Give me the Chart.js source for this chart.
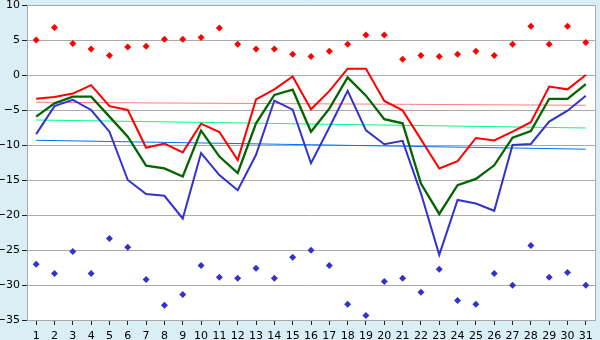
<!DOCTYPE html>
<html>
<head>
<meta charset="utf-8">
<script src="https://cdn.jsdelivr.net/npm/chart.js@4/dist/chart.umd.min.js"></script>
<style>
html,body{margin:0;padding:0;background:#d9eef5;}
#wrap{width:600px;height:340px;position:relative;}
</style>
</head>
<body>
<div id="wrap"><canvas id="c" width="600" height="340"></canvas></div>
<script>
const days = ['1','2','3','4','5','6','7','8','9','10','11','12','13','14','15','16','17','18','19','20','21','22','23','24','25','26','27','28','29','30','31'];
const maxPoints = [5.0,6.8,4.5,3.7,2.8,4.0,4.1,5.1,5.1,5.35,6.7,4.4,3.7,3.7,2.95,2.65,3.4,4.4,5.7,5.7,2.25,2.8,2.65,2.95,3.4,2.8,4.4,6.95,4.4,6.95,4.65];
const minPoints = [-27.05,-28.35,-25.2,-28.35,-23.35,-24.6,-29.2,-32.9,-31.35,-27.2,-28.9,-29.05,-27.6,-29.05,-26.05,-25.05,-27.2,-32.75,-34.35,-29.5,-29.05,-31.05,-27.75,-32.2,-32.75,-28.35,-30.05,-24.35,-28.9,-28.2,-30.05];
const redLine = [-3.4,-3.15,-2.65,-1.45,-4.45,-5.0,-10.4,-9.8,-11.05,-6.95,-8.15,-12.15,-3.5,-2.05,-0.2,-4.9,-2.3,0.9,0.9,-3.7,-5.05,-9.2,-13.35,-12.3,-9.0,-9.35,-8.1,-6.75,-1.65,-2.05,0.0];
const greenLine = [-5.95,-4.05,-3.1,-3.1,-5.95,-8.8,-12.95,-13.35,-14.5,-7.95,-11.65,-14.0,-6.9,-2.85,-2.1,-8.1,-4.8,-0.35,-2.95,-6.3,-6.9,-15.5,-19.85,-15.75,-14.85,-12.9,-8.95,-8.0,-3.4,-3.4,-1.3];
const blueLine = [-8.45,-4.45,-3.55,-5.0,-8.1,-15.0,-17.0,-17.25,-20.5,-11.15,-14.3,-16.45,-11.4,-3.65,-4.95,-12.6,-7.5,-2.25,-7.9,-9.9,-9.4,-16.9,-25.7,-17.85,-18.35,-19.4,-10.0,-9.85,-6.65,-5.1,-2.95];
const redTrend = [-3.9,-4.33];
const greenTrend = [-6.43,-7.57];
const blueTrend = [-9.33,-10.6];
const yTicks = [10,5,0,-5,-10,-15,-20,-25,-30,-35];

const first = days[0], last = days[days.length-1];

const bgPlugin = {
  id:'bg',
  beforeDraw(chart){
    const {ctx, chartArea:a} = chart;
    ctx.save();
    ctx.fillStyle = '#d9eef5';
    ctx.fillRect(0,0,chart.width,chart.height);
    ctx.fillStyle = '#ffffff';
    ctx.fillRect(a.left,a.top,a.right-a.left,a.bottom-a.top);
    ctx.restore();
  },
  beforeDatasetsDraw(chart){
    const {ctx, chartArea:a} = chart;
    ctx.save();
    ctx.strokeStyle = '#aaaaaa';
    ctx.lineWidth = 1;
    ctx.beginPath();
    ctx.moveTo(a.left, a.top+0.5);
    ctx.lineTo(a.right+0.5, a.top+0.5);
    ctx.lineTo(a.right+0.5, a.bottom);
    ctx.stroke();
    ctx.restore();
  }
};

new Chart(document.getElementById('c'), {
  type:'line',
  data:{
    labels: days,
    datasets:[
      {label:'red', data:redLine, borderColor:'#ff0000', borderWidth:2, pointRadius:0, fill:false, tension:0, order:1},
      {label:'green', data:greenLine, borderColor:'#006600', borderWidth:2.3, pointRadius:0, fill:false, tension:0, order:1},
      {label:'blue', data:blueLine, borderColor:'#3333cc', borderWidth:2, pointRadius:0, fill:false, tension:0, order:1},
      {label:'redTrend', data:[{x:first,y:redTrend[0]},{x:last,y:redTrend[1]}], borderColor:'#ff8080', borderWidth:1, pointRadius:0, fill:false, order:2},
      {label:'greenTrend', data:[{x:first,y:greenTrend[0]},{x:last,y:greenTrend[1]}], borderColor:'#00ff80', borderWidth:1, pointRadius:0, fill:false, order:2},
      {label:'blueTrend', data:[{x:first,y:blueTrend[0]},{x:last,y:blueTrend[1]}], borderColor:'#0070ff', borderWidth:1, pointRadius:0, fill:false, order:2},
      {label:'max', data:maxPoints, showLine:false, pointStyle:'rectRot', pointRadius:3.5, pointBorderWidth:0, pointBackgroundColor:'#ff0000', borderColor:'#ff0000', order:3},
      {label:'min', data:minPoints, showLine:false, pointStyle:'rectRot', pointRadius:3.5, pointBorderWidth:0, pointBackgroundColor:'#3333cc', borderColor:'#3333cc', order:3}
    ]
  },
  options:{
    responsive:false,
    animation:false,
    devicePixelRatio:1,
    layout:{padding:{top:5,right:5,left:0,bottom:0}},
    plugins:{legend:{display:false}, tooltip:{enabled:false}},
    elements:{line:{borderJoinStyle:'miter'}},
    scales:{
      x:{
        type:'category',
        offset:true,
        grid:{display:true, drawOnChartArea:false, drawTicks:true, tickLength:5, color:'#222222', offset:false},
        border:{display:true, color:'#aaaaaa'},
        ticks:{color:'#000000', font:{family:'DejaVu Sans', size:11}, padding:5, maxRotation:0, autoSkip:false},
        afterFit(s){ s.height = 20; s.paddingLeft = 0; s.paddingRight = 0; }
      },
      y:{
        min:-35, max:10,
        afterBuildTicks(s){ s.ticks = yTicks.map(v=>({value:v})); },
        grid:{color:'#aaaaaa', drawTicks:true, tickLength:5, tickColor:'#222222'},
        border:{display:true, color:'#aaaaaa'},
        ticks:{color:'#000000', font:{family:'DejaVu Sans', size:11}, padding:2,
          callback:(v)=> (v<0 ? '\u2212'+Math.abs(v) : String(v))},
        afterFit(s){ s.width = 27; s.paddingTop = 0; s.paddingBottom = 0; }
      }
    }
  },
  plugins:[bgPlugin]
});
</script>
</body>
</html>
